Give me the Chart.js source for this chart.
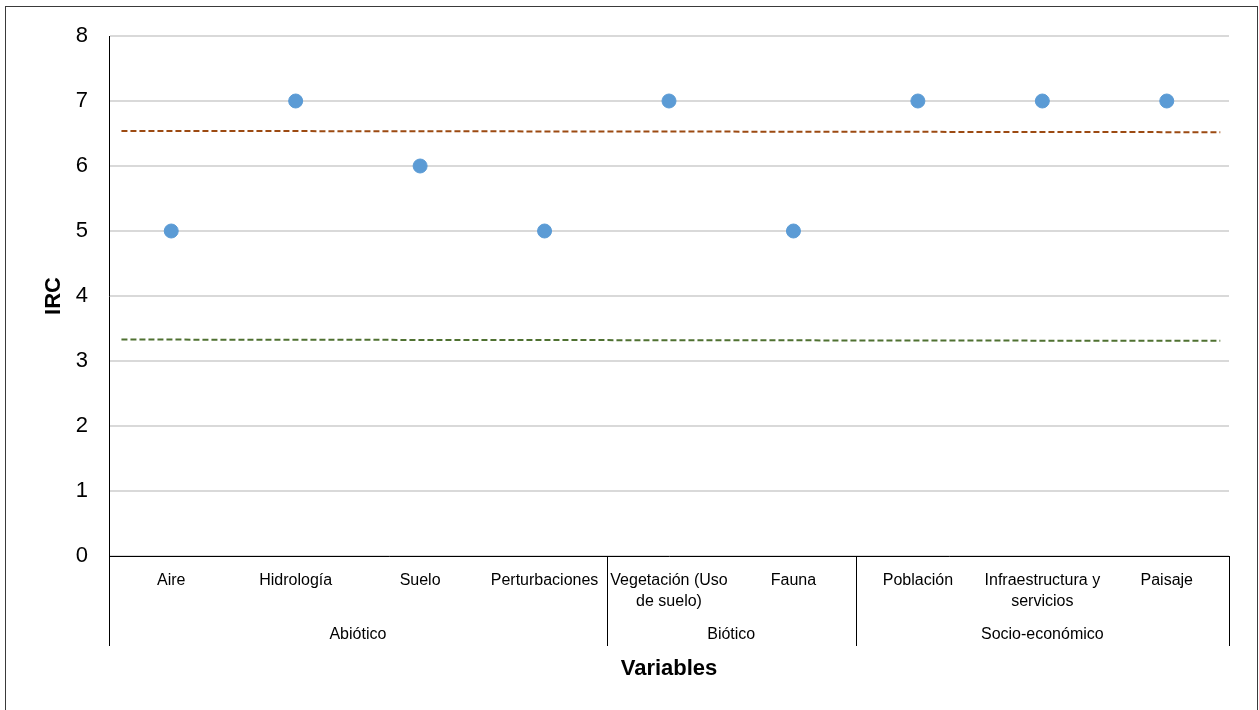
<!DOCTYPE html>
<html lang="es">
<head>
    <meta charset="UTF-8">
    <title>IRC por variable</title>
    <script src="https://cdn.jsdelivr.net/npm/chart.js"></script>
    <style>
        body {
            margin: 0;
            padding: 0;
            background-color: #ffffff;
            overflow: hidden;
        }
        .chart-wrap {
            position: relative;
            width: 1259px;
            height: 710px;
        }
        .frame {
            position: absolute;
            left: 5px;
            top: 6px;
            width: 1253px;
            height: 720px;
            border: 1px solid #3a3a3a;
            box-sizing: border-box;
            pointer-events: none;
        }
        canvas {
            position: absolute;
            left: 0;
            top: 0;
        }
    </style>
</head>
<body>
    <div class="chart-wrap">
        <canvas id="ircChart" width="1259" height="710"></canvas>
        <div class="frame"></div>
    </div>

    <script>
        const categories = ['Aire', 'Hidrología', 'Suelo', 'Perturbaciones', ['Vegetación (Uso', 'de suelo)'],
            'Fauna', 'Población', ['Infraestructura y', 'servicios'], 'Paisaje'];
        const ircValues = [5, 7, 6, 5, 7, 5, 7, 7, 7];
        const groups = ['Abiótico', 'Biótico', 'Socio-económico'];
        const groupSizes = [4, 2, 3];
        const yTicks = [0, 1, 2, 3, 4, 5, 6, 7, 8];

        // dashed reference lines: start and end positions along x, with their values
        const limitSpan = [0.1, 8.93];
        const upperLimit = [6.54, 6.52];
        const lowerLimit = [3.33, 3.31];

        const FONT = "'Liberation Sans Narrow', 'Liberation Sans', Arial, sans-serif";

        const points = ircValues.map((v, i) => ({ x: i + 0.5, y: v }));
        const upperLine = limitSpan.map((x, i) => ({ x: x, y: upperLimit[i] }));
        const lowerLine = limitSpan.map((x, i) => ({ x: x, y: lowerLimit[i] }));

        // group separators, group names and axis titles
        const extras = {
            id: 'extras',
            afterDraw(chart) {
                const ctx = chart.ctx;
                const xs = chart.scales.x;
                const area = chart.chartArea;
                const bottom = 646;

                ctx.save();
                ctx.strokeStyle = '#000000';
                ctx.lineWidth = 1;
                let start = 0;
                const bounds = [0];
                groupSizes.forEach(n => { start += n; bounds.push(start); });
                bounds.forEach(b => {
                    const px = Math.round(xs.getPixelForValue(b)) + 0.5;
                    ctx.beginPath();
                    ctx.moveTo(px, area.bottom);
                    ctx.lineTo(px, bottom);
                    ctx.stroke();
                });

                ctx.fillStyle = '#000000';
                ctx.font = '16px ' + FONT;
                ctx.textAlign = 'center';
                ctx.textBaseline = 'middle';
                groups.forEach((g, i) => {
                    const mid = (bounds[i] + bounds[i + 1]) / 2;
                    ctx.fillText(g, xs.getPixelForValue(mid), 635);
                });

                ctx.font = 'bold 22px ' + FONT;
                ctx.fillText('Variables', (area.left + area.right) / 2, 669);

                ctx.translate(54, (area.top + area.bottom) / 2);
                ctx.rotate(-Math.PI / 2);
                ctx.fillText('IRC', 0, 0);
                ctx.restore();
            }
        };

        const ctx = document.getElementById('ircChart').getContext('2d');

        const ircChart = new Chart(ctx, {
            type: 'scatter',
            data: {
                datasets: [
                    {
                        label: 'IRC',
                        data: points,
                        backgroundColor: '#5b9bd5',
                        borderColor: '#5b9bd5',
                        pointRadius: 7,
                        pointHoverRadius: 7,
                        order: 0
                    },
                    {
                        label: 'Límite superior',
                        data: upperLine,
                        showLine: true,
                        borderColor: '#9c4a12',
                        borderWidth: 2,
                        borderDash: [6, 3],
                        pointRadius: 0,
                        order: 1
                    },
                    {
                        label: 'Límite inferior',
                        data: lowerLine,
                        showLine: true,
                        borderColor: '#4f7131',
                        borderWidth: 2,
                        borderDash: [6, 3],
                        pointRadius: 0,
                        order: 1
                    }
                ]
            },
            options: {
                responsive: false,
                animation: false,
                events: [],
                layout: {
                    padding: { top: 36, right: 30, left: 0, bottom: 0 }
                },
                plugins: {
                    legend: { display: false },
                    tooltip: { enabled: false }
                },
                scales: {
                    x: {
                        type: 'linear',
                        min: 0,
                        max: 9,
                        grid: { display: false, drawTicks: false },
                        border: { display: true, color: '#000000', width: 1 },
                        afterBuildTicks: scale => {
                            scale.ticks = categories.map((c, i) => ({ value: i + 0.5 }));
                        },
                        ticks: {
                            autoSkip: false,
                            maxRotation: 0,
                            padding: 14,
                            color: '#000000',
                            font: { family: FONT, size: 16, lineHeight: 1.3 },
                            callback: (value, index) => categories[index]
                        },
                        afterFit: scale => { scale.height = 154; }
                    },
                    y: {
                        min: 0,
                        max: 8,
                        afterBuildTicks: scale => {
                            scale.ticks = yTicks.map(v => ({ value: v }));
                        },
                        grid: { color: '#d9d9d9', lineWidth: 2, drawTicks: false },
                        border: { display: true, color: '#000000', width: 1 },
                        ticks: {
                            padding: 21,
                            color: '#000000',
                            font: { family: FONT, size: 22 }
                        },
                        afterFit: scale => { scale.width = 109; }
                    }
                }
            },
            plugins: [extras]
        });
    </script>
</body>
</html>
